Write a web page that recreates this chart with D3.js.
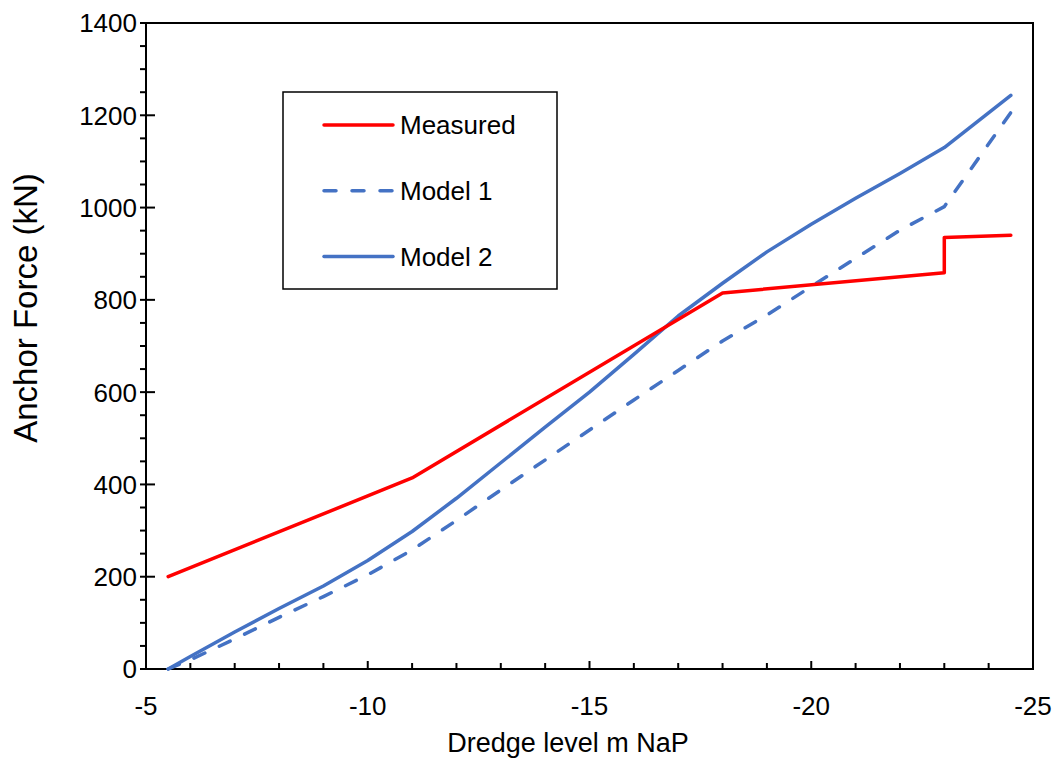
<!DOCTYPE html>
<html>
<head>
<meta charset="utf-8">
<script src="https://cdnjs.cloudflare.com/ajax/libs/d3/7.8.5/d3.min.js"></script>
<style>
  body { margin: 0; background: #fff; }
  text { font-family: "Liberation Sans", Arial, sans-serif; fill: #000; }
</style>
</head>
<body>
<div id="chart"></div>
<script>
// dredge level (m NaP) and anchor force (kN)
var measuredDepth = [-5.5, -11, -18, -23, -23, -24.5];
var measuredForce = [200, 414, 815, 859, 935, 940];

var modelDepth = [-5.5, -6, -7, -8, -9, -10, -11, -12, -13, -14, -15, -16, -17, -18, -19, -20, -21, -22, -23, -24.5];
var model1Force = [0, 20, 65, 112, 157, 204, 258, 322, 388, 453, 518, 583, 647, 711, 767, 829, 890, 951, 1002, 1206];
var model2Force = [0, 27, 80, 131, 180, 235, 298, 370, 447, 524, 600, 682, 765, 836, 904, 964, 1020, 1074, 1130, 1243];

var xTicks = [-5, -10, -15, -20, -25];
var yTicks = [0, 200, 400, 600, 800, 1000, 1200, 1400];

var series = [
  { name: "Measured", xs: measuredDepth, ys: measuredForce, color: "#ff0000", dash: null },
  { name: "Model 1", xs: modelDepth, ys: model1Force, color: "#4472c4", dash: "12,16" },
  { name: "Model 2", xs: modelDepth, ys: model2Force, color: "#4472c4", dash: null }
];

var W = 1059, H = 765;
var margin = { top: 23, right: 26, bottom: 96, left: 146 };

var svg = d3.select("#chart").append("svg")
    .attr("width", W)
    .attr("height", H);

var x = d3.scaleLinear().domain([-5, -25]).range([margin.left, W - margin.right]);
var y = d3.scaleLinear().domain([0, 1400]).range([H - margin.bottom, margin.top]);

// minor ticks
var xMinor = d3.range(-6, -25, -1).filter(function (d) { return d % 5 != 0; });
var yMinor = d3.range(50, 1400, 50).filter(function (d) { return d % 200 != 0; });

var gx = svg.append("g").attr("transform", "translate(0," + y(0) + ")");
gx.selectAll(".minor").data(xMinor).enter().append("line")
    .attr("x1", function (d) { return x(d); }).attr("x2", function (d) { return x(d); })
    .attr("y1", 0).attr("y2", -6)
    .attr("stroke", "#000").attr("stroke-width", 2);
gx.selectAll(".major").data(xTicks).enter().append("line")
    .attr("x1", function (d) { return x(d); }).attr("x2", function (d) { return x(d); })
    .attr("y1", 0).attr("y2", -8)
    .attr("stroke", "#000").attr("stroke-width", 2);
gx.selectAll(".lbl").data(xTicks).enter().append("text")
    .attr("x", function (d) { return x(d); })
    .attr("y", 46)
    .attr("text-anchor", "middle")
    .style("font-size", "26px")
    .text(function (d) { return d; });

var gy = svg.append("g").attr("transform", "translate(" + x(-5) + ",0)");
gy.selectAll(".minor").data(yMinor).enter().append("line")
    .attr("y1", function (d) { return y(d); }).attr("y2", function (d) { return y(d); })
    .attr("x1", -6).attr("x2", 0)
    .attr("stroke", "#000").attr("stroke-width", 2);
gy.selectAll(".major").data(yTicks).enter().append("line")
    .attr("y1", function (d) { return y(d); }).attr("y2", function (d) { return y(d); })
    .attr("x1", -6).attr("x2", 9)
    .attr("stroke", "#000").attr("stroke-width", 2);
gy.selectAll(".lbl").data(yTicks).enter().append("text")
    .attr("x", -9)
    .attr("y", function (d) { return y(d); })
    .attr("dy", "0.36em")
    .attr("text-anchor", "end")
    .style("font-size", "26px")
    .text(function (d) { return d; });

// plot frame
svg.append("rect")
    .attr("x", x(-5)).attr("y", y(1400))
    .attr("width", x(-25) - x(-5)).attr("height", y(0) - y(1400))
    .attr("fill", "none").attr("stroke", "#000").attr("stroke-width", 2);

// lines
var line = d3.line()
    .x(function (d) { return x(d[0]); })
    .y(function (d) { return y(d[1]); });

series.slice().reverse().forEach(function (s) {
  var pts = s.xs.map(function (v, i) { return [v, s.ys[i]]; });
  svg.append("path")
      .datum(pts)
      .attr("d", line)
      .attr("fill", "none")
      .attr("stroke", s.color)
      .attr("stroke-width", 3.5)
      .attr("stroke-linejoin", "round")
      .attr("stroke-linecap", "round")
      .attr("stroke-dasharray", s.dash);
});

// legend
var legend = svg.append("g").attr("transform", "translate(283,92)");
legend.append("rect")
    .attr("width", 274).attr("height", 197)
    .attr("fill", "#fff").attr("stroke", "#000").attr("stroke-width", 1.5);
series.forEach(function (s, i) {
  var ly = 33 + i * 65.8;
  legend.append("line")
      .attr("x1", 41).attr("x2", 110)
      .attr("y1", ly).attr("y2", ly)
      .attr("stroke", s.color)
      .attr("stroke-width", 3.5)
      .attr("stroke-linecap", "round")
      .attr("stroke-dasharray", s.dash);
  legend.append("text")
      .attr("x", 117).attr("y", ly)
      .attr("dy", "0.36em")
      .style("font-size", "26px")
      .text(s.name);
});

// axis titles
svg.append("text")
    .attr("x", 568).attr("y", 752)
    .attr("text-anchor", "middle")
    .style("font-size", "27px")
    .text("Dredge level m NaP");

svg.append("text")
    .attr("transform", "translate(37,308) rotate(-90)")
    .attr("text-anchor", "middle")
    .style("font-size", "33px")
    .text("Anchor Force (kN)");
</script>
</body>
</html>
